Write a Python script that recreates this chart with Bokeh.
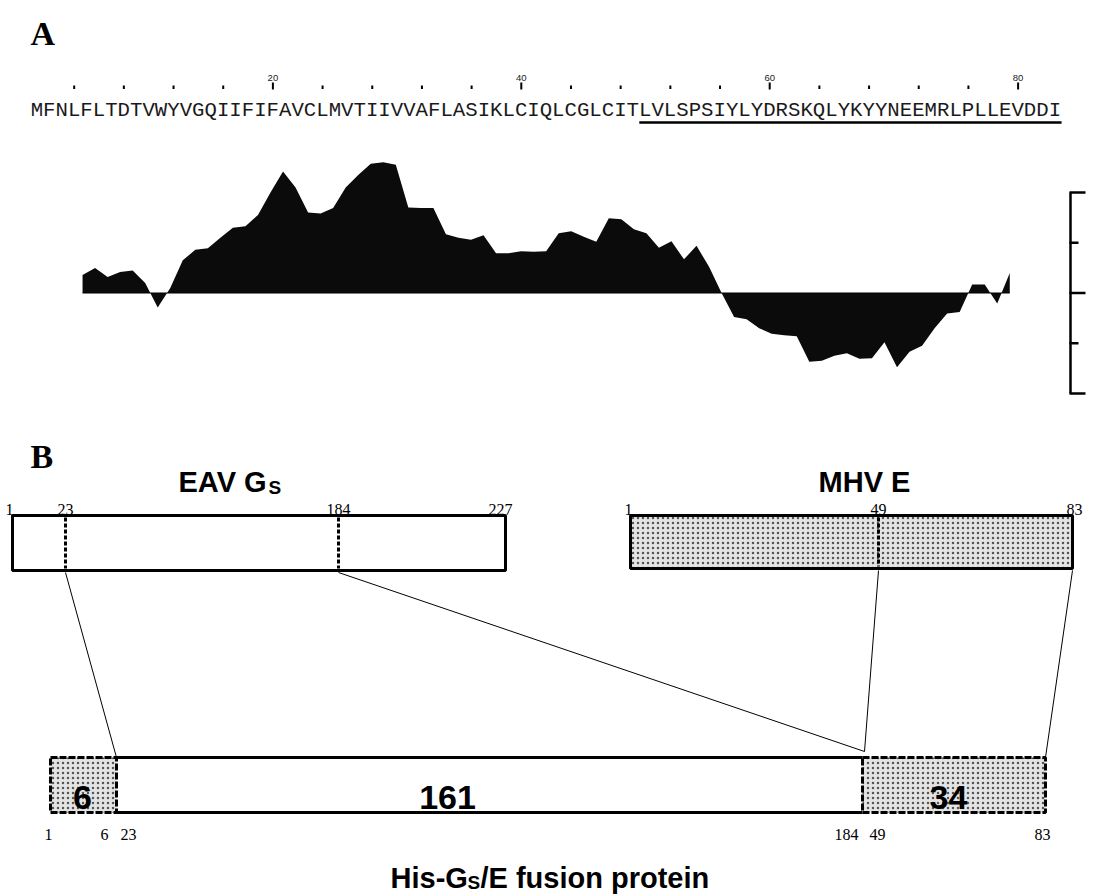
from bokeh.plotting import figure
from bokeh.models import Range1d
from bokeh.embed import file_html
from bokeh.resources import INLINE
from bokeh.core.properties import value

# ---------------- data ----------------
sequence = "MFNLFLTDTVWYVGQIIFIFAVCLMVTIIVVAFLASIKLCIQLCGLCITLVLSPSIYLYDRSKQLYKYYNEEMRLPLLEVDDI"
underline_from = 50                     # residue where underlined stretch starts
seq_ticks = list(range(4, 81, 4))       # dotted ruler above the sequence
seq_tick_labels = [20, 40, 60, 80]

hyd_res = list(range(5, 80))
hyd_vals = [0.36, 0.50, 0.32, 0.42, 0.45, 0.20, -0.29, 0.10, 0.65, 0.86,
            0.89, 1.10, 1.30, 1.33, 1.55, 2.00, 2.42, 2.10, 1.60, 1.58,
            1.69, 2.10, 2.35, 2.57, 2.60, 2.55, 1.70, 1.69, 1.69, 1.17,
            1.10, 1.06, 1.15, 0.79, 0.79, 0.83, 0.82, 0.83, 1.19, 1.23,
            1.12, 1.02, 1.49, 1.47, 1.27, 1.19, 0.90, 1.03, 0.67, 0.94,
            0.52, 0.00, -0.48, -0.52, -0.70, -0.81, -0.84, -0.86, -1.37, -1.35,
            -1.25, -1.20, -1.31, -1.30, -0.98, -1.48, -1.17, -1.05, -0.70, -0.41,
            -0.38, 0.17, 0.17, -0.21, 0.40]
scale_ticks = [-2, -1, 0, 1, 2]

eav_marks = ["1", "23", "184", "227"]
mhv_marks = ["1", "49", "83"]
fusion_marks = ["1", "6", "23", "184", "49", "83"]
fusion_segments = ["6", "161", "34"]

# ---------------- layout (picture pixel coordinates) ----------------
W, H = 1104, 894
X0, X1 = 0, W
Y0, Y1 = 0, H

SEQ_A, SEQ_B = 24.0, 12.42          # x = A + B*residue (sequence ruler)
HX_A, HX_B = 19.4, 12.53            # x = A + B*residue (profile)
HY_0, HY_S = 292.5, 50.25           # y = HY_0 - HY_S*value

p = figure(width=W, height=H, x_range=Range1d(X0, X1), y_range=Range1d(Y1, Y0),
           x_axis_type=None, y_axis_type=None, output_backend="svg",
           toolbar_location=None, min_border=0)
p.grid.visible = False
p.outline_line_color = None
p.background_fill_color = "white"

p.extra_x_ranges = {
    "seq": Range1d((X0 - SEQ_A) / SEQ_B, (X1 - SEQ_A) / SEQ_B),
    "hx": Range1d((X0 - HX_A) / HX_B, (X1 - HX_A) / HX_B),
}
p.extra_y_ranges = {"hy": Range1d((HY_0 - Y1) / HY_S, (HY_0 - Y0) / HY_S)}

serif = value("Liberation Serif")
sans = value("Liberation Sans")

# ---------------- panel A ----------------
p.text(x=[30], y=[33], text=["A"], text_font=serif, text_font_style="bold",
       text_font_size="34px", text_baseline="alphabetic", text_align="left")

# ruler ticks
minor = [t for t in seq_ticks if t not in seq_tick_labels]
p.segment(x0=minor, x1=minor, y0=[85] * len(minor), y1=[88.5] * len(minor),
          x_range_name="seq", line_color="black", line_width=2)
p.segment(x0=seq_tick_labels, x1=seq_tick_labels, y0=[82] * 4, y1=[89] * 4,
          x_range_name="seq", line_color="black", line_width=2)
p.text(x=seq_tick_labels, y=[77] * 4, text=[str(t) for t in seq_tick_labels],
       x_range_name="seq", text_font=sans, text_font_size="9.5px",
       text_align="center", text_baseline="alphabetic", text_color="#222")

# sequence
p.text(x=[0.5], y=[110], text=[sequence], x_range_name="seq",
       text_font=value("Liberation Mono"), text_font_size="20.7px",
       text_align="left", text_baseline="alphabetic", text_color="#1a1a1a")
p.segment(x0=[underline_from - 0.5], x1=[len(sequence) + 0.5], y0=[122], y1=[122],
          x_range_name="seq", line_color="black", line_width=2.5)

# hydropathy profile
p.varea(x=hyd_res, y1=[0] * len(hyd_res), y2=hyd_vals, x_range_name="hx",
        y_range_name="hy", fill_color="#0b0b0b")
p.segment(x0=[hyd_res[0]], x1=[hyd_res[-1]], y0=[0], y1=[0], x_range_name="hx",
          y_range_name="hy", line_color="black", line_width=1)

# scale bar
p.segment(x0=[1070], x1=[1070], y0=[min(scale_ticks)], y1=[max(scale_ticks)],
          y_range_name="hy", line_color="black", line_width=2.5)
long_t = [t for t in scale_ticks if t % 2 == 0]
short_t = [t for t in scale_ticks if t % 2 != 0]
p.segment(x0=[1069] * len(long_t), x1=[1085] * len(long_t), y0=long_t, y1=long_t,
          y_range_name="hy", line_color="black", line_width=2.5)
p.segment(x0=[1069] * len(short_t), x1=[1078] * len(short_t), y0=short_t, y1=short_t,
          y_range_name="hy", line_color="black", line_width=2.5)

# ---------------- panel B ----------------
p.text(x=[30], y=[456], text=["B"], text_font=serif, text_font_style="bold",
       text_font_size="34px", text_baseline="alphabetic", text_align="left")

STIP = dict(fill_color="#e4e4e4", hatch_pattern="dot", hatch_scale=5,
            hatch_color="#555555", hatch_weight=1.0)

# EAV Gs
eav_box = (12, 505, 515, 570)
eav_x = [9, 65, 338, 500]
p.quad(left=[eav_box[0]], right=[eav_box[1]], top=[eav_box[2]], bottom=[eav_box[3]],
       fill_color="white", line_color="black", line_width=3)
p.segment(x0=eav_x[1:3], x1=eav_x[1:3], y0=[517] * 2, y1=[568] * 2,
          line_color="black", line_width=3, line_dash="4 2")
p.text(x=eav_x, y=[509] * 4, text=eav_marks, text_font=serif, text_font_size="16px",
       text_align="center", text_baseline="alphabetic")
p.text(x=[178], y=[481], text=["EAV G"], text_font=sans, text_font_style="bold",
       text_font_size="29px", text_align="left", text_baseline="alphabetic")
p.text(x=[268], y=[487], text=["S"], text_font=sans, text_font_style="bold",
       text_font_size="19px", text_align="left", text_baseline="alphabetic")

# MHV E
mhv_box = (630, 1072, 515, 568)
mhv_x = [628, 878, 1074]
p.quad(left=[mhv_box[0]], right=[mhv_box[1]], top=[mhv_box[2]], bottom=[mhv_box[3]],
       line_color="black", line_width=3, **STIP)
p.segment(x0=[mhv_x[1]], x1=[mhv_x[1]], y0=[517], y1=[566],
          line_color="black", line_width=3, line_dash="4 2")
p.text(x=mhv_x, y=[509] * 3, text=mhv_marks, text_font=serif, text_font_size="16px",
       text_align="center", text_baseline="alphabetic")
p.text(x=[864], y=[481], text=["MHV E"], text_font=sans, text_font_style="bold",
       text_font_size="29px", text_align="center", text_baseline="alphabetic")

# fusion protein
fy0, fy1 = 757, 812
fx = [50, 116, 862, 1045]
p.quad(left=[fx[1]], right=[fx[2]], top=[fy0], bottom=[fy1], fill_color="white",
       line_color=None)
p.segment(x0=[fx[1], fx[1]], x1=[fx[2], fx[2]], y0=[fy0, fy1], y1=[fy0, fy1],
          line_color="black", line_width=3)
p.quad(left=[fx[0], fx[2]], right=[fx[1], fx[3]], top=[fy0, fy0], bottom=[fy1, fy1],
       line_color="black", line_width=3, line_dash="7 2", **STIP)
seg_cx = [82, 447, 948]
p.text(x=seg_cx, y=[797] * 3, text=fusion_segments, text_font=sans,
       text_font_style="bold", text_font_size="34px", text_align="center",
       text_baseline="alphabetic")
fm_x = [48, 104, 128, 846, 877, 1042]
p.text(x=fm_x, y=[834] * 6, text=fusion_marks, text_font=serif, text_font_size="16px",
       text_align="center", text_baseline="alphabetic")

# connector lines
p.segment(x0=[eav_x[1], eav_x[2], mhv_x[1], mhv_box[1]],
          y0=[eav_box[3] + 2, eav_box[3] + 2, mhv_box[3] + 2, mhv_box[3] + 2],
          x1=[fx[1], 864, 864, fx[3]],
          y1=[fy0, 751, 751, fy0],
          line_color="black", line_width=1)

# bottom title
p.text(x=[390], y=[877], text=["His-G"], text_font=sans, text_font_style="bold",
       text_font_size="29px", text_align="left", text_baseline="alphabetic")
p.text(x=[467], y=[882], text=["S"], text_font=sans, text_font_style="bold",
       text_font_size="19px", text_align="left", text_baseline="alphabetic")
p.text(x=[480], y=[877], text=["/E fusion protein"], text_font=sans,
       text_font_style="bold", text_font_size="29px", text_align="left",
       text_baseline="alphabetic")

open("out.html", "w").write(file_html(p, INLINE))
